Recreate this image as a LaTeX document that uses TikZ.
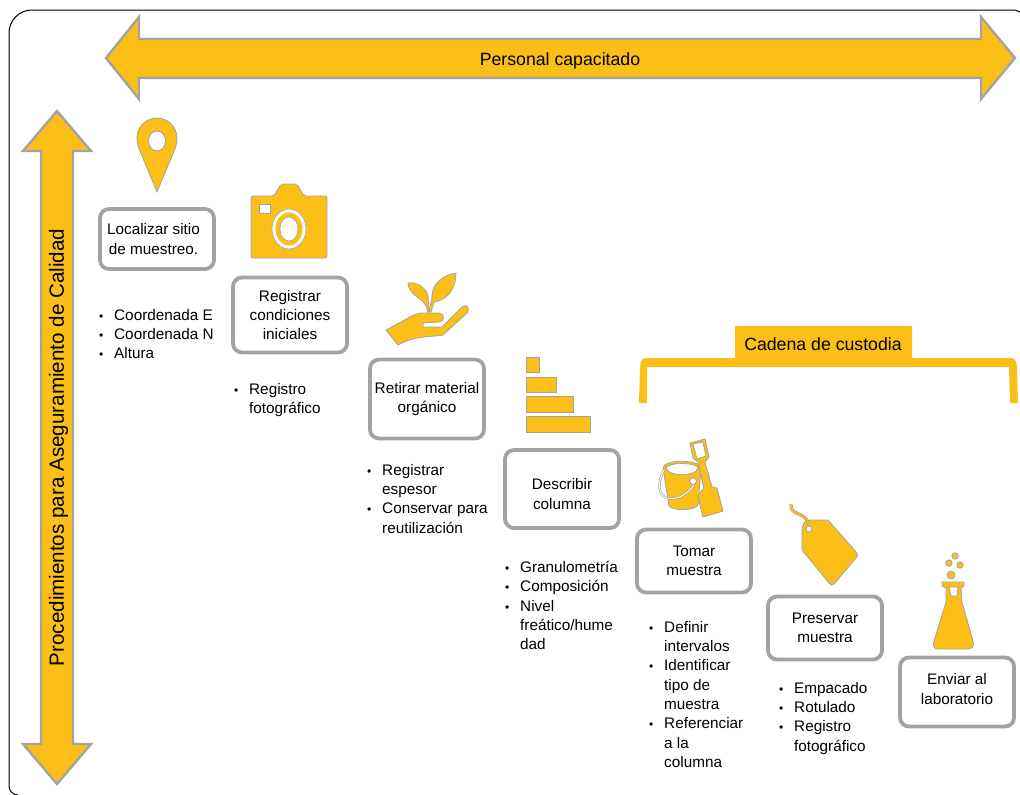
\documentclass[tikz,border=0pt]{standalone}
\usepackage{fontspec}
\setmainfont{Liberation Sans}
\usetikzlibrary{positioning}
\definecolor{amber}{HTML}{FCBF17}
\definecolor{edge}{HTML}{A3A3A3}
\newcommand{\itm}{\makebox[15pt][l]{\large\textbullet}}
\newcommand{\ind}{\hspace*{15pt}}

\begin{document}
\begin{tikzpicture}[
  x=1pt, y=-1pt,
    every node/.style={font=\fontsize{15.3}{19.3}\selectfont},
    stepbox/.style={rectangle, rounded corners=9pt, minimum width=114pt, minimum height=60pt, align=center, draw=edge, fill=white, line width=3.8pt, inner sep=1pt},
    notes/.style={anchor=north west, align=left, inner sep=0pt},
    banner/.style={font=\fontsize{17.7}{20}\selectfont},
    icon/.style={fill=amber, draw=edge, line width=0.8pt},
    band/.style={fill=amber, draw=edge, line width=2.4pt, line join=miter}
]
\useasboundingbox (0,0) rectangle (1020,795);

% Frame
\draw[black, line width=1pt] (18,795) arc[start angle=270, end angle=180, radius=9pt] -- (9,33) arc[start angle=180, end angle=90, radius=23pt] -- (1015,10) -- (1020,12);

% Big arrows
\path[band] (106,58) -- (139,17) -- (139,39) -- (981,39) -- (981,17) -- (1015,58) -- (981,99) -- (981,78) -- (139,78) -- (139,99) -- cycle;
\node (personal) [banner] at (560,61) {Personal capacitado};
\path[band] (57,111) -- (91,151) -- (73,151) -- (73,744) -- (91,744) -- (57,784) -- (23,744) -- (41,744) -- (41,151) -- (23,151) -- cycle;
\node (calidad) [rotate=90, font=\fontsize{20.6}{22}\selectfont] at (58.5,447.5) {Procedimientos para Aseguramiento de Calidad};

% Steps
\node (localizar) [stepbox, minimum height=60pt] at (157,239) {Localizar sitio\hspace*{7pt}\\de muestreo.\hspace*{7pt}};
\node (registrar) [stepbox, minimum height=75pt] at (290,315) {Registrar\\condiciones\\iniciales};
\node (retirar) [stepbox, minimum height=79pt] at (427,399) {Retirar material\\orgánico};
\node (describir) [stepbox, minimum height=78pt] at (562,489) {\rule{0pt}{21pt}Describir\\columna};
\node (tomar) [stepbox, minimum height=63pt] at (694,561) {Tomar\\muestra};
\node (preservar) [stepbox, minimum height=63pt] at (825,628) {Preservar\\muestra};
\node (enviar) [stepbox, minimum height=69pt] at (957,692) {Enviar al\\\rule[-6pt]{0pt}{6pt}laboratorio};

% Lists
\node (listaA) [notes] at (99,309) {\itm Coordenada E\\\itm Coordenada N\\\itm Altura};
\node (listaB) [notes] at (234,383) {\itm Registro\\\ind fotográfico};
\node (listaC) [notes] at (367,464) {\itm Registrar\\\ind espesor\\\itm Conservar para\\\ind reutilización};
\node (listaD) [notes] at (505,561) {\itm Granulometría\\\itm Composición\\\itm Nivel\\\ind freático/hume\\\ind dad};
\node (listaE) [notes] at (649,621) {\itm Definir\\\ind intervalos\\\itm Identificar\\\ind tipo de\\\ind muestra\\\itm Referenciar\\\ind a la\\\ind columna};
\node (listaF) [notes] at (779,682) {\itm Empacado\\\itm Rotulado\\\itm Registro\\\ind fotográfico};

% Cadena de custodia
\fill[amber] (639,403) -- (640,368) to[out=90, in=180] (646,358) -- (735,358) -- (735,326) -- (912,326) -- (912,358) -- (1011,358) to[out=0, in=90] (1017,368) -- (1018,403) -- (1010,403) -- (1009,367) -- (647,367) -- (647,403) -- cycle;
\node (cadena) [banner] at (823,344) {Cadena de custodia};

% Pin
\path[icon, even odd rule] (157,192) -- (139.5,150) .. controls (137.5,145) and (137,141) .. (137,138) arc[start angle=180, end angle=0, radius=20pt] .. controls (177,141) and (176.5,145) .. (174.5,150) -- cycle
  (157,141) ellipse[x radius=8.5pt, y radius=10pt];

% Camera
\path[icon, rounded corners=2pt] (251,258) -- (251,196) -- (274,196) -- (281,184) -- (297,184) -- (304,196) -- (327,196) -- (327,258) -- cycle;
\path[fill=white, draw=edge, line width=0.6pt] (259,204) rectangle (270,213);
\path[fill=white, draw=edge, line width=0.6pt] (289,229) ellipse[x radius=17pt, y radius=20pt];
\fill[amber] (289,229) ellipse[x radius=13.5pt, y radius=16.5pt];
\path[fill=white, draw=edge, line width=0.6pt] (289,229) ellipse[x radius=9pt, y radius=12pt];

% Plant on hand
\path[icon] (386,330) -- (410,317) .. controls (418,312) and (425,313) .. (432,313) -- (439,313) .. controls (445,314) and (445,322) .. (439,322) -- (423,323) -- (423,327) -- (442,327) -- (463,306) .. controls (468,304) and (470,309) .. (467,313) -- (443,335) .. controls (435,337) and (415,335) .. (398,345) -- cycle;
\path[icon] (427.5,312) .. controls (427,303) and (421,300) .. (417,297) .. controls (411,292) and (408,288) .. (408,283) .. controls (417,282) and (425,287) .. (428,295) -- (429,312) -- cycle;
\path[icon] (429,312) .. controls (430,303) and (432,302) .. (432,296) .. controls (432,285) and (442,275) .. (456,273) .. controls (456,288) and (448,300) .. (434,302) -- (431,312) -- cycle;

% Column steps
\path[icon] (526,357) rectangle (539,372);
\path[icon] (526,377) rectangle (556,392);
\path[icon] (526,396) rectangle (573,412);
\path[icon] (526,416) rectangle (590,432);

% Bucket and shovel
\path[icon, even odd rule] (663,468) .. controls (663,459) and (701,459) .. (701,468) -- (698,505) .. controls (694,511) and (673,511) .. (669,506) -- cycle
  (666,468) .. controls (668,462) and (696,462) .. (698,468) .. controls (696,477) and (668,477) .. (666,468) -- cycle;
\draw[edge, line width=2.2pt] (664,470) .. controls (657,483) and (658,495) .. (667,498) .. controls (678,501) and (690,492) .. (695,483);
\draw[white, line width=0.9pt] (664,470) .. controls (657,483) and (658,495) .. (667,498) .. controls (678,501) and (690,492) .. (695,483);
\draw[edge, line width=0.9pt, fill=white] (693,481) circle[radius=3.5pt];
\path[icon, even odd rule] (690,443) -- (705,439) -- (709,457) -- (705,462) -- (712,487) -- (717,488) -- (723,511) -- (703,517) -- (698,497) .. controls (699,494) and (701,490) .. (704,489) -- (698,462) -- (693,458) -- cycle
  (693,444) -- (703,442) -- (706,456) -- (697,459) -- cycle;

% Tag
\path[icon] (802,530) .. controls (802,526) and (805,520) .. (808,520) -- (828,520) -- (857,553) .. controls (858,556) and (857,557) .. (856,558) -- (834,584) .. controls (832,586) and (831,585) .. (829,583) -- (802,550) -- cycle;
\draw[edge, line width=3.2pt] (791,504) .. controls (790,517) and (805,510) .. (809,525);
\draw[amber, line width=2pt] (791,504) .. controls (790,517) and (805,510) .. (809,525);
\path[fill=white, draw=edge, line width=0.8pt] (809,529) circle[radius=3pt];

% Flask
\path[icon, even odd rule] (942,582) -- (964,582) -- (964,586) -- (961,588) -- (962,602) -- (973,641) .. controls (975,647) and (971,649) .. (968,649) -- (938,649) .. controls (935,649) and (932,647) .. (934,641) -- (946,602) -- (946,588) -- (942,586) -- cycle
  (949,587) -- (958,587) -- (957,596) -- (951,596) -- cycle;
\path[icon] (951,575) circle[radius=4pt];
\path[icon] (949,563) circle[radius=3.2pt];
\path[icon] (960,565) circle[radius=3.2pt];
\path[icon] (955,556) circle[radius=3.2pt];

\end{tikzpicture}
\end{document}
